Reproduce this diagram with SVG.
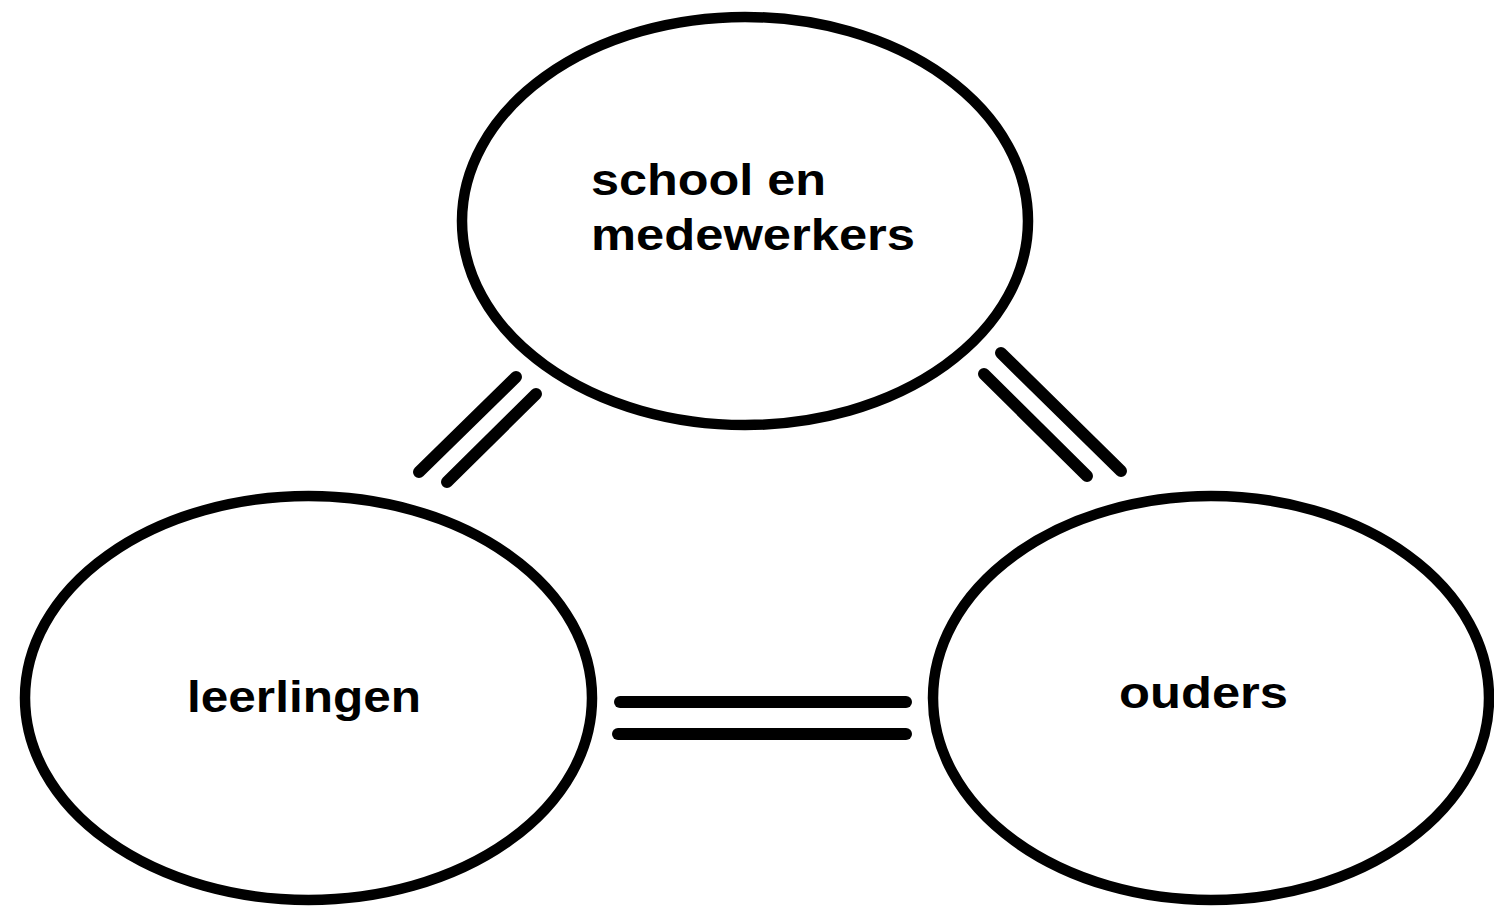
<svg xmlns="http://www.w3.org/2000/svg" width="1494" height="912" viewBox="0 0 1494 912">
<style>
.node ellipse{fill:none;stroke:#000;stroke-width:10.5}
.node text{font-family:"Liberation Sans",Arial,sans-serif;font-weight:bold;font-size:45px;fill:#000}
#connectors line{stroke:#000;stroke-width:12;stroke-linecap:round}
</style>
<rect width="1494" height="912" fill="#fff"/>
<g id="connectors">
<line x1="419" y1="472" x2="516" y2="377"/>
<line x1="447" y1="482" x2="536" y2="394"/>
<line x1="1001" y1="353" x2="1121" y2="471"/>
<line x1="984" y1="374" x2="1087" y2="476"/>
<line x1="620" y1="702" x2="906" y2="702"/>
<line x1="618" y1="734" x2="906" y2="734"/>
</g>
<g id="school" class="node">
<ellipse cx="745" cy="221" rx="283" ry="204"/>
<text x="591" y="195" textLength="235" lengthAdjust="spacingAndGlyphs">school en</text>
<text x="591" y="250" textLength="324" lengthAdjust="spacingAndGlyphs">medewerkers</text>
</g>
<g id="leerlingen" class="node">
<ellipse cx="308.5" cy="698" rx="283.5" ry="202"/>
<text x="187" y="712" textLength="234" lengthAdjust="spacingAndGlyphs">leerlingen</text>
</g>
<g id="ouders" class="node">
<ellipse cx="1211" cy="698" rx="278" ry="202"/>
<text x="1119" y="708" textLength="169" lengthAdjust="spacingAndGlyphs">ouders</text>
</g>
</svg>
